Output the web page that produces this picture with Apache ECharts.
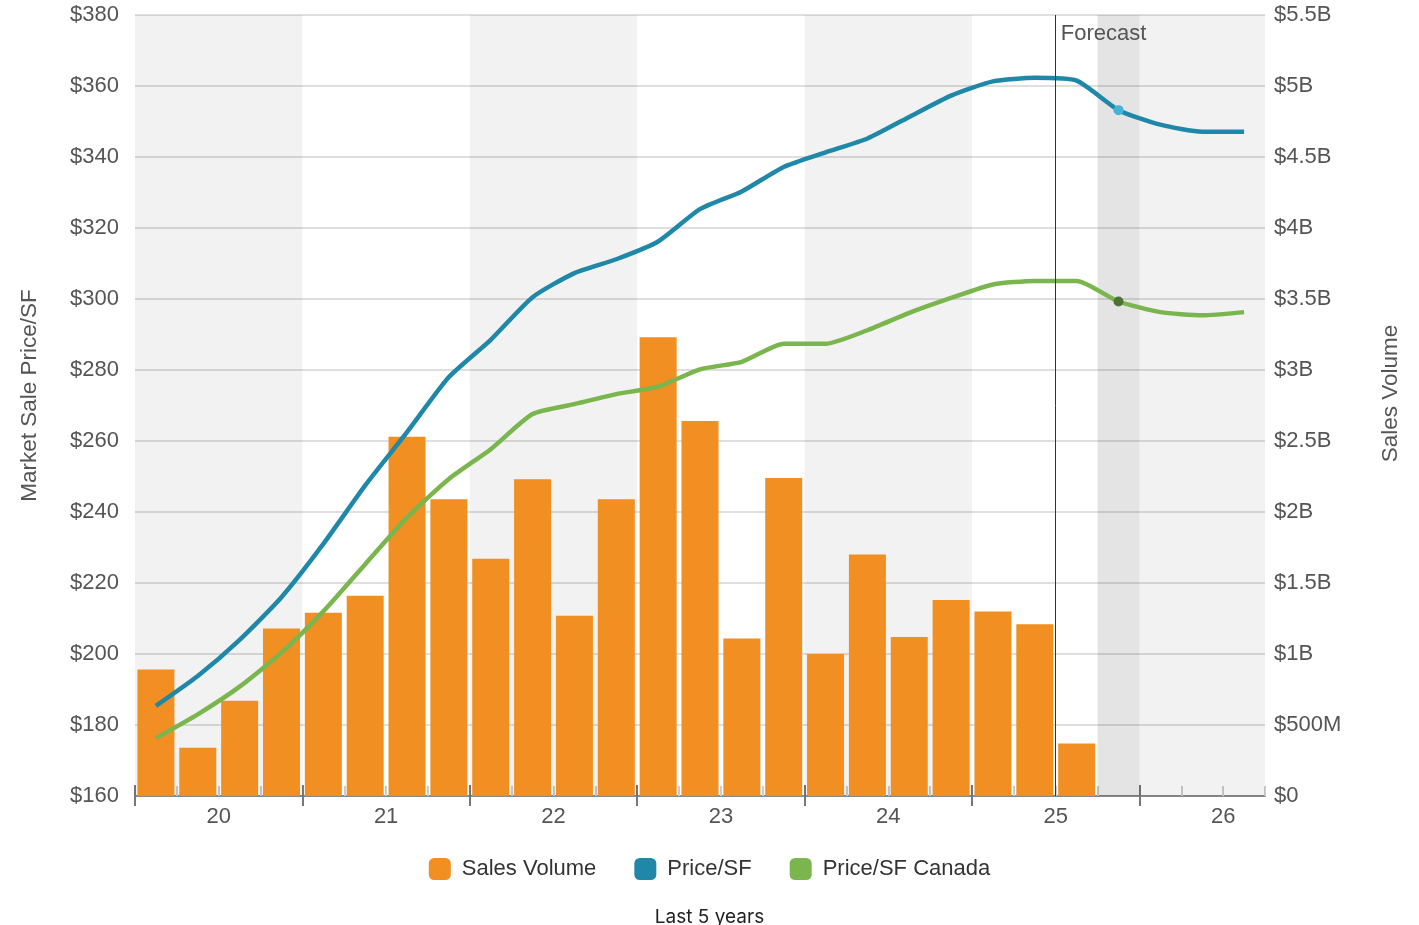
<!DOCTYPE html>
<html>
<head>
<meta charset="utf-8">
<script src="https://cdn.jsdelivr.net/npm/echarts@6/dist/echarts.min.js"></script>
<style>
  html, body { margin: 0; padding: 0; background: #fff; }
  #main { width: 1419px; height: 925px; }
</style>
</head>
<body>
<div id="main"></div>
<script>
// quarters 2020 Q1 .. 2026 Q3
const quarters = [
  '2020 Q1', '2020 Q2', '2020 Q3', '2020 Q4',
  '2021 Q1', '2021 Q2', '2021 Q3', '2021 Q4',
  '2022 Q1', '2022 Q2', '2022 Q3', '2022 Q4',
  '2023 Q1', '2023 Q2', '2023 Q3', '2023 Q4',
  '2024 Q1', '2024 Q2', '2024 Q3', '2024 Q4',
  '2025 Q1', '2025 Q2', '2025 Q3', '2025 Q4',
  '2026 Q1', '2026 Q2', '2026 Q3'
];
const yearLabels = ['20', '21', '22', '23', '24', '25', '26'];

// sales volume in $B (history only)
const salesVolume = [
  0.89, 0.34, 0.67, 1.18,
  1.29, 1.41, 2.53, 2.09,
  1.67, 2.23, 1.27, 2.09,
  3.23, 2.64, 1.11, 2.24,
  1.00, 1.70, 1.12, 1.38,
  1.30, 1.21, 0.37
];
const priceSF = [
  185.4, 193.8, 204.0, 216.0,
  231.0, 247.5, 262.5, 278.0,
  288.5, 300.5, 307.3, 311.2,
  316.2, 325.3, 330.3, 337.2,
  341.3, 345.2, 351.3, 357.3,
  361.3, 362.3, 361.5, 353.2,
  349.1, 347.1, 347.1
];
const priceSFCanada = [
  176.3, 183.0, 190.8, 200.4,
  212.0, 225.3, 238.5, 249.3,
  257.7, 267.6, 270.4, 273.2,
  275.3, 280.2, 282.3, 287.4,
  287.4, 291.2, 296.1, 300.3,
  304.1, 305.1, 305.1, 299.3,
  296.3, 295.4, 296.3
];

const forecastStart = 22;   // boundary before 2025 Q3
const currentQuarter = 23;  // 2025 Q4

const n = quarters.length;
const yearStarts = [];
for (let i = 0; i < n; i += 4) yearStarts.push(i);
const yearMids = yearStarts.map(s => s + 2);
const quarterTicks = [];
for (let i = 1; i <= n; i++) if (i % 4 !== 0) quarterTicks.push(i);

const font = '"Liberation Sans", Arial, sans-serif';
const axisTextColor = '#555';

const chart = echarts.init(document.getElementById('main'));

function money(v) {
  if (v === 0) return '$0';
  if (v < 1) return '$' + Math.round(v * 1000) + 'M';
  return '$' + v + 'B';
}

function lineData(values, dotColor) {
  return values.map((v, i) => {
    if (i === currentQuarter) {
      return { value: [i + 0.5, v], symbol: 'circle', symbolSize: 10, itemStyle: { color: dotColor } };
    }
    return [i + 0.5, v];
  });
}

const baseX = { type: 'value', min: 0, max: n, position: 'bottom', splitLine: { show: false } };

const option = {
  backgroundColor: '#ffffff',
  textStyle: { fontFamily: font },
  grid: { left: 135, right: 154, top: 15, bottom: 129 },
  title: {
    text: 'Last 5 years',
    left: 'center',
    top: 903,
    textStyle: { fontFamily: 'Inter, sans-serif', fontSize: 19, fontWeight: 'normal', color: '#222' }
  },
  legend: {
    data: ['Sales Volume', 'Price/SF', 'Price/SF Canada'],
    top: 853,
    left: 'center',
    icon: 'roundRect',
    itemWidth: 22,
    itemHeight: 22,
    itemGap: 38,
    textStyle: { fontSize: 22, color: '#333', fontFamily: font, padding: [0, 0, 0, 6] }
  },
  xAxis: [
    Object.assign({}, baseX, {
      axisLine: { show: true, lineStyle: { color: '#888', width: 2 } },
      axisTick: { show: true, inside: true, length: 11, customValues: yearStarts, lineStyle: { color: '#777', width: 2 } },
      axisLabel: {
        show: true, customValues: yearMids, margin: 10,
        fontSize: 22, color: axisTextColor, fontFamily: font,
        formatter: v => yearLabels[(v - 2) / 4] || ''
      }
    }),
    Object.assign({}, baseX, {
      axisLine: { show: false },
      axisTick: { show: true, inside: false, length: 10, customValues: yearStarts, lineStyle: { color: '#777', width: 2 } },
      axisLabel: { show: false }
    }),
    Object.assign({}, baseX, {
      axisLine: { show: false },
      axisTick: { show: true, inside: true, length: 10, customValues: quarterTicks, lineStyle: { color: '#ccc', width: 2 } },
      axisLabel: { show: false }
    })
  ],
  yAxis: [
    {
      type: 'value',
      min: 160, max: 380, interval: 20,
      name: 'Market Sale Price/SF',
      nameLocation: 'middle',
      nameGap: 94,
      nameRotate: 90,
      nameTextStyle: { fontSize: 22.5, color: axisTextColor, fontFamily: font, padding: [0, 0, 0, 20] },
      axisLine: { show: false },
      axisTick: { show: false },
      axisLabel: { fontSize: 22, color: axisTextColor, margin: 16, formatter: v => '$' + v },
      splitLine: { lineStyle: { color: '#d4d4d4', width: 1.5 } }
    },
    {
      type: 'value',
      min: 0, max: 5.5, interval: 0.5,
      name: 'Sales Volume',
      nameLocation: 'middle',
      nameGap: 114,
      nameRotate: 90,
      nameTextStyle: { fontSize: 22.5, color: axisTextColor, fontFamily: font, padding: [0, 0, 0, 24] },
      axisLine: { show: false },
      axisTick: { show: false },
      axisLabel: { fontSize: 22, color: axisTextColor, margin: 9, formatter: money },
      splitLine: { show: false }
    }
  ],
  series: [
    {
      // background bands, forecast line
      type: 'line',
      data: [],
      silent: true,
      z: 1,
      xAxisIndex: 0,
      yAxisIndex: 0,
      markArea: {
        silent: true,
        data: [
          [{ xAxis: 0, itemStyle: { color: 'rgba(0,0,0,0.05)' } }, { xAxis: 4 }],
          [{ xAxis: 8, itemStyle: { color: 'rgba(0,0,0,0.05)' } }, { xAxis: 12 }],
          [{ xAxis: 16, itemStyle: { color: 'rgba(0,0,0,0.05)' } }, { xAxis: 20 }],
          [{ xAxis: currentQuarter, itemStyle: { color: 'rgba(0,0,0,0.105)' } }, { xAxis: currentQuarter + 1 }],
          [{ xAxis: 24, itemStyle: { color: 'rgba(0,0,0,0.05)' } }, { xAxis: n }]
        ]
      },
      markLine: {
        silent: true,
        symbol: 'none',
        label: { show: false },
        lineStyle: { color: '#333', width: 1, type: 'solid' },
        data: [{ xAxis: forecastStart }]
      },
      markPoint: {
        silent: true,
        symbol: 'circle',
        symbolSize: 0,
        data: [{
          coord: [forecastStart, 380],
          label: {
            show: true, position: [5, 8], align: 'left', verticalAlign: 'top',
            formatter: 'Forecast', fontSize: 22, color: '#555', fontFamily: font
          }
        }]
      }
    },
    {
      name: 'Sales Volume',
      type: 'bar',
      xAxisIndex: 0,
      yAxisIndex: 1,
      barWidth: 37,
      z: 2,
      itemStyle: { color: '#f18f22' },
      data: salesVolume.map((v, i) => [i + 0.5, v])
    },
    {
      name: 'Price/SF',
      type: 'line',
      xAxisIndex: 0,
      yAxisIndex: 0,
      z: 3,
      smooth: 0.2,
      symbol: 'none',
      color: '#1f88a8',
      lineStyle: { width: 4.5, color: '#1f88a8' },
      data: lineData(priceSF, '#44b3da')
    },
    {
      name: 'Price/SF Canada',
      type: 'line',
      xAxisIndex: 0,
      yAxisIndex: 0,
      z: 3,
      smooth: 0.2,
      symbol: 'none',
      color: '#7ab54d',
      lineStyle: { width: 4.5, color: '#7ab54d' },
      data: lineData(priceSFCanada, '#4e7434')
    }
  ]
};

chart.setOption(option);
</script>
</body>
</html>
